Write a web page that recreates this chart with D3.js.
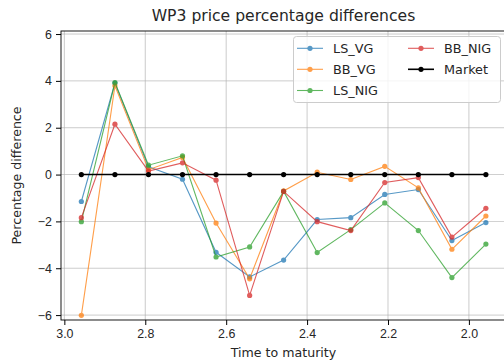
<!DOCTYPE html>
<html>
<head>
<meta charset="utf-8">
<script src="https://cdn.jsdelivr.net/npm/d3@7"></script>
<style>
  body { margin: 0; background: #fff; }
  svg { font-family: "DejaVu Sans", sans-serif; }
  .tick text { font-size: 12.4px; fill: #262626; }
  .tick line { stroke: #000; }
  .domain { display: none; }
</style>
</head>
<body>
<div id="chart"></div>
<script>
// time to maturity (years), one point per month
var maturities = [2.958, 2.875, 2.792, 2.708, 2.625, 2.542, 2.458, 2.375, 2.292, 2.208, 2.125, 2.042, 1.958];

var lsVG   = [-1.15, 3.91, 0.33, -0.20, -3.32, -4.37, -3.65, -1.92, -1.84, -0.85, -0.64, -2.82, -2.05];
var bbVG   = [-6.01, 3.79, 0.21, 0.73, -2.07, -4.45, -0.70, 0.10, -0.21, 0.35, -0.57, -3.19, -1.77];
var lsNIG  = [-2.01, 3.93, 0.40, 0.80, -3.52, -3.09, -0.72, -3.33, -2.35, -1.21, -2.39, -4.40, -2.97];
var bbNIG  = [-1.84, 2.15, 0.15, 0.50, -0.24, -5.16, -0.72, -2.01, -2.39, -0.34, -0.13, -2.67, -1.44];
var market = [0, 0, 0, 0, 0, 0, 0, 0, 0, 0, 0, 0, 0];

var seriesNames = ['LS_VG', 'BB_VG', 'LS_NIG', 'BB_NIG', 'Market'];
var seriesValues = [lsVG, bbVG, lsNIG, bbNIG, market];
var colors = ['#1f77b4', '#ff7f0e', '#2ca02c', '#d62728', '#000000'];

var xTicks = [3.0, 2.8, 2.6, 2.4, 2.2, 2.0];
var yTicks = [-6, -4, -2, 0, 2, 4, 6];

var width = 504, height = 362;
var padL = 61, padR = 506, padT = 31, padB = 320;

var svg = d3.select('#chart').append('svg')
  .attr('width', width).attr('height', height);

var x = d3.scaleLinear().domain([3.0083, 1.9083]).range([padL, padR]);
var y = d3.scaleLinear().domain([-6.21, 6.13]).range([padB, padT]);

// grid
svg.append('g').selectAll('line').data(xTicks).enter().append('line')
  .attr('x1', function (d) { return x(d); }).attr('x2', function (d) { return x(d); })
  .attr('y1', padT).attr('y2', padB)
  .attr('stroke', '#b0b0b0').attr('stroke-width', 0.8).attr('opacity', 0.8);
svg.append('g').selectAll('line').data(yTicks).enter().append('line')
  .attr('y1', function (d) { return y(d); }).attr('y2', function (d) { return y(d); })
  .attr('x1', padL).attr('x2', padR)
  .attr('stroke', '#b0b0b0').attr('stroke-width', 0.8).attr('opacity', 0.8);

// axes
svg.append('g').attr('transform', 'translate(0,' + padB + ')')
  .call(d3.axisBottom(x).tickValues(xTicks).tickFormat(d3.format('.1f')).tickSize(5).tickPadding(4));
svg.append('g').attr('transform', 'translate(' + padL + ',0)')
  .call(d3.axisLeft(y).tickValues(yTicks).tickFormat(function (d) { return d < 0 ? '\u2212' + Math.abs(d) : d; }).tickSize(5).tickPadding(4));

// lines
var line = d3.line()
  .x(function (d, i) { return x(maturities[i]); })
  .y(function (d) { return y(d); });

seriesValues.forEach(function (vals, k) {
  var isMarket = seriesNames[k] === 'Market';
  var g = svg.append('g').attr('opacity', isMarket ? 1 : 0.75);
  g.append('path').datum(vals)
    .attr('d', line).attr('fill', 'none')
    .attr('stroke', colors[k]).attr('stroke-width', isMarket ? 1.6 : 1.1);
  g.selectAll('circle').data(vals).enter().append('circle')
    .attr('cx', function (d, i) { return x(maturities[i]); })
    .attr('cy', function (d) { return y(d); })
    .attr('r', 2.6).attr('fill', colors[k]);
});

// spines
svg.append('rect').attr('x', padL).attr('y', padT)
  .attr('width', padR - padL).attr('height', padB - padT)
  .attr('fill', 'none').attr('stroke', '#000').attr('stroke-width', 0.9);

// title and labels
svg.append('text').attr('x', (padL + padR) / 2).attr('y', 21)
  .attr('text-anchor', 'middle').attr('font-size', 15.6).attr('fill', '#262626')
  .text('WP3 price percentage differences');
svg.append('text').attr('x', (padL + padR) / 2).attr('y', 357)
  .attr('text-anchor', 'middle').attr('font-size', 12.6).attr('fill', '#262626')
  .text('Time to maturity');
svg.append('text')
  .attr('transform', 'translate(21,' + ((padT + padB) / 2) + ') rotate(-90)')
  .attr('text-anchor', 'middle').attr('font-size', 12.6).attr('fill', '#262626')
  .text('Percentage difference');

// legend
var legend = svg.append('g');
legend.append('rect').attr('x', 293.5).attr('y', 36.5).attr('width', 207).attr('height', 66)
  .attr('rx', 3).attr('fill', '#fff').attr('fill-opacity', 0.8)
  .attr('stroke', '#cccccc').attr('stroke-width', 1);

var colX = [297, 408];
var rowY = [48.3, 69.3, 90.5];
seriesNames.forEach(function (name, k) {
  var cx = colX[k < 3 ? 0 : 1];
  var cy = rowY[k < 3 ? k : k - 3];
  var isMarket = name === 'Market';
  var item = legend.append('g');
  var mark = item.append('g').attr('opacity', isMarket ? 1 : 0.75);
  mark.append('line').attr('x1', cx).attr('x2', cx + 26).attr('y1', cy).attr('y2', cy)
    .attr('stroke', colors[k]).attr('stroke-width', isMarket ? 1.6 : 1.1);
  mark.append('circle').attr('cx', cx + 13).attr('cy', cy).attr('r', 2.6).attr('fill', colors[k]);
  item.append('text').attr('x', cx + 36).attr('y', cy + 4.5)
    .attr('font-size', 12.8).attr('fill', '#262626').text(name);
});
</script>
</body>
</html>
